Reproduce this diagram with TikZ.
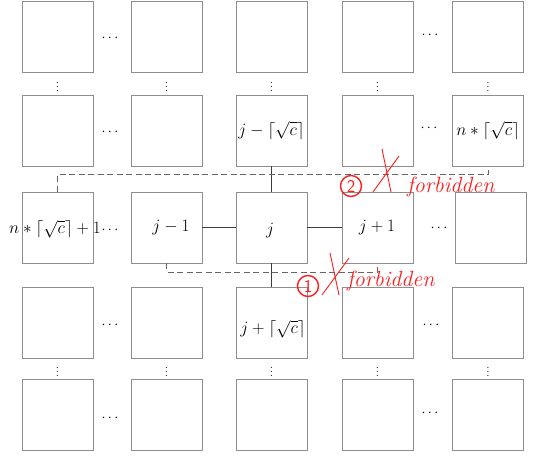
\documentclass[tikz,border=0pt]{standalone}
\definecolor{boxgray}{HTML}{8E8E8E}
\definecolor{conngray}{HTML}{3C3C3C}
\definecolor{dashgray}{HTML}{666666}
\definecolor{redann}{HTML}{FF1C1C}
\newcommand{\labfont}{\fontsize{17}{20}\selectfont}
\begin{document}
\begin{tikzpicture}[x=1pt,y=-1pt,
  box/.style={draw=boxgray, line width=0.9pt, minimum width=71pt, minimum height=71pt, inner sep=0pt, font=\labfont},
  lab/.style={inner sep=0pt, font=\labfont},
  conn/.style={draw=conngray, line width=0.8pt},
  dashline/.style={draw=dashgray, line width=0.8pt, dash pattern=on 6pt off 3.5pt},
  hdots/.style={inner sep=0pt, font=\fontsize{15}{15}\selectfont},
  vdots/.style={inner sep=0pt, font=\fontsize{12}{12}\selectfont},
  forb/.style={inner sep=0pt, text=redann, font=\fontsize{22}{24}\selectfont\itshape},
  circnum/.style={circle, draw=redann, line width=1.4pt, inner sep=0pt, minimum size=21pt, text=redann, font=\sffamily\fontsize{18}{18}\selectfont},
  cross/.style={draw=redann, line width=0.9pt}]
\useasboundingbox (0,0) rectangle (535,455);
% row 1
\node[box] (b11) at (57.5,37) {};
\node[box] (b12) at (166.5,37) {};
\node[box] (b13) at (271.5,37) {};
\node[box] (b14) at (377.5,37) {};
\node[box] (b15) at (488,37) {};
% row 2
\node[box] (b21) at (57.5,130.5) {};
\node[box] (b22) at (166.5,130.5) {};
\node[box] (b23) at (271.5,130.5) {$j-\lceil\sqrt{c}\rceil$};
\node[box] (b24) at (377.5,130.5) {};
\node[box] (b25) at (488,130.5) {$n*\lceil\sqrt{c}\rceil$};
% row 3
\node[box] (b31) at (57.5,227.5) {};
\node[box] (b32) at (166.5,227.5) {};
\node[box] (b33) at (271.5,227.5) {};
\node[box] (b34) at (377.5,227.5) {};
\node[box] (b35) at (491,227.5) {};
\node[lab] (l31) at (55,229) {$n*\lceil\sqrt{c}\rceil+1$};
\node[lab] (l32) at (171,228) {$j-1$};
\node[lab] (l33) at (270,231) {$j$};
\node[lab] (l34) at (377,228) {$j+1$};
% row 4
\node[box] (b41) at (57.5,323) {};
\node[box] (b42) at (166.5,323) {};
\node[box] (b43) at (271.5,323) {};
\node[box] (b44) at (377.5,323) {};
\node[box] (b45) at (488,323) {};
\node[lab] (l43) at (273,329) {$j+\lceil\sqrt{c}\rceil$};
% row 5
\node[box] (b51) at (57.5,415) {};
\node[box] (b52) at (166.5,415) {};
\node[box] (b53) at (271.5,415) {};
\node[box] (b54) at (377.5,415) {};
\node[box] (b55) at (488,415) {};
% horizontal dots
\node[hdots] (h1a) at (110,38) {$\cdots$};
\node[hdots] (h1b) at (430,35) {$\cdots$};
\node[hdots] (h2a) at (110,132) {$\cdots$};
\node[hdots] (h2b) at (429,128) {$\cdots$};
\node[hdots] (h3a) at (110,230) {$\cdots$};
\node[hdots] (h3b) at (439,228) {$\cdots$};
\node[hdots] (h4a) at (110,325) {$\cdots$};
\node[hdots] (h4b) at (431,325) {$\cdots$};
\node[hdots] (h5a) at (110,418) {$\cdots$};
\node[hdots] (h5b) at (430,413) {$\cdots$};
% vertical dots
\foreach \x/\n in {57.5/1,166.5/2,271.5/3,377.5/4,488/5}{
  \node[vdots] (va\n) at (\x,84) {$\vdots$};
  \node[vdots] (vb\n) at (\x,369) {$\vdots$};
}
% connectors
\draw[conn] (b33.west) -- (b32.east);
\draw[conn] (b33.east) -- (b34.west);
\draw[conn] (b33.north) -- (b23.south);
\draw[conn] (b33.south) -- (b43.north);
% dashed
\draw[dashline] (b31.north) -- ++(0,-17) -| (b25.south);
\draw[dashline] (b32.south) -- ++(0,8.5) -| (b34.south);
% red annotations
\draw[cross] (382,149) -- (391,192);
\draw[cross] (399,156) -- (373,192);
\draw[cross] (330,253) -- (339,295);
\draw[cross] (349,258) -- (322,295);
\node[circnum] (c2) at (351,186) {2};
\node[circnum] (c1) at (308,286) {1};
\node[forb, anchor=base west] (f2) at (407,192) {forbidden};
\node[forb, anchor=base west] (f1) at (347,286) {forbidden};
\end{tikzpicture}
\end{document}
